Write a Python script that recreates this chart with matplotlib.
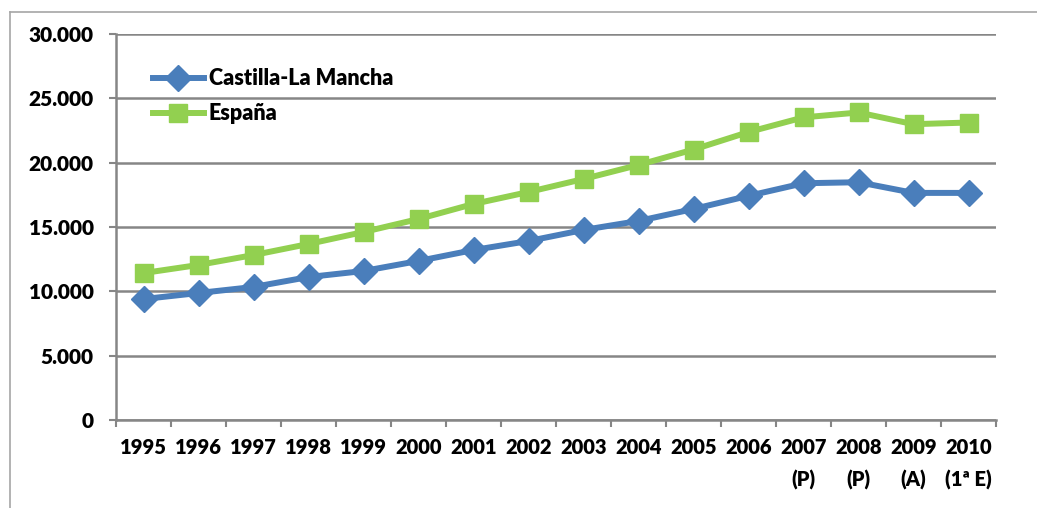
import matplotlib
matplotlib.use("Agg")
import matplotlib.pyplot as plt
from matplotlib.lines import Line2D
from matplotlib.ticker import FuncFormatter, MultipleLocator

# ── data ─────────────────────────────────────────────────────────────────────
years = ["1995", "1996", "1997", "1998", "1999", "2000", "2001", "2002",
         "2003", "2004", "2005", "2006", "2007\n(P)", "2008\n(P)",
         "2009\n(A)", "2010\n(1ª E)"]
castilla_la_mancha = [9400, 9870, 10340, 11110, 11580, 12360, 13210, 13910,
                      14770, 15470, 16400, 17420, 18400, 18480, 17650, 17650]
espana = [11420, 12050, 12820, 13680, 14610, 15620, 16790, 17720,
          18730, 19820, 21020, 22380, 23520, 23900, 22990, 23120]

BLUE = "#4A7EBB"
GREEN = "#92D050"
GRID = "#868686"

plt.rcParams["font.family"] = ["Lato", "DejaVu Sans"]
plt.rcParams["font.weight"] = "heavy"

fig = plt.figure(figsize=(10.37, 5.08), dpi=100)
ax = fig.add_axes([116 / 1037, 1 - 420 / 508, 880 / 1037, 386 / 508])

x = list(range(len(years)))
ax.plot(x, castilla_la_mancha, color=BLUE, linewidth=4.3, marker="D",
        markersize=13.5, label="Castilla-La Mancha")
ax.plot(x, espana, color=GREEN, linewidth=4.3, marker="s",
        markersize=13, label="España")

ax.set_xlim(-0.5, len(years) - 0.5)
ax.set_ylim(0, 30000)
ax.yaxis.set_major_locator(MultipleLocator(5000))
ax.yaxis.set_major_formatter(
    FuncFormatter(lambda v, _: f"{int(v):,}".replace(",", ".")))
ax.grid(axis="y", color=GRID, linewidth=1.8)
ax.set_axisbelow(True)

ax.set_xticks(x)
ax.set_xticklabels(years, fontsize=14.5, fontweight="heavy", linespacing=1.75,
                   ha="center", va="top")
ax.set_xticks([i - 0.5 for i in range(len(years) + 1)], minor=True)
ax.tick_params(axis="x", which="major", length=0, pad=13)
ax.tick_params(axis="x", which="minor", length=5, width=1.5, color=GRID)
ax.tick_params(axis="y", length=5, width=1.5, color=GRID, labelsize=15, pad=11)
for lab in ax.get_yticklabels():
    lab.set_fontweight("heavy")

for side in ("top", "right"):
    ax.spines[side].set_visible(False)
for side in ("left", "bottom"):
    ax.spines[side].set_color(GRID)
    ax.spines[side].set_linewidth(1.8)

ax.legend(loc="upper left", bbox_to_anchor=(0.02, 0.962), frameon=False,
          handlelength=2.35, handletextpad=0.25, labelspacing=0.65,
          prop={"weight": "heavy", "size": 15.5})

# outer chart-area frame (cropped at right and bottom)
fig.add_artist(Line2D([10 / 1037, 10 / 1037], [0, 1 - 12 / 508],
                      transform=fig.transFigure, color="#A6A6A6", linewidth=1.2))
fig.add_artist(Line2D([10 / 1037, 1], [1 - 12 / 508, 1 - 12 / 508],
                      transform=fig.transFigure, color="#A6A6A6", linewidth=1.2))

fig.savefig("out.png", dpi=100)
